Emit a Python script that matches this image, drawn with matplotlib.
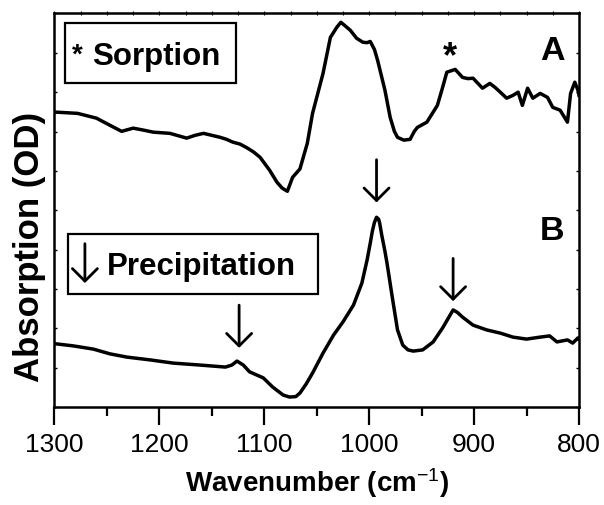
import numpy as np
import matplotlib
matplotlib.use("Agg")
import matplotlib.pyplot as plt
from matplotlib.patches import Rectangle

plt.rcParams['font.family'] = ['Liberation Sans', 'DejaVu Sans']
plt.rcParams['mathtext.fontset'] = 'custom'
plt.rcParams['mathtext.rm'] = 'Liberation Sans'
plt.rcParams['mathtext.it'] = 'Liberation Sans:italic'
plt.rcParams['mathtext.bf'] = 'Liberation Sans:bold'

# ---- Data (wavenumber in cm^-1, absorbance in arbitrary offset units) ----
wn_A = [1300, 1298, 1278, 1260, 1247, 1236, 1225, 1215, 1206, 1190, 1174, 1166, 1158, 1150,
        1142, 1136, 1130, 1123, 1116, 1110, 1104, 1095, 1088, 1083, 1078, 1073, 1066, 1059,
        1054, 1044, 1037, 1031, 1027, 1022, 1018, 1012, 1006, 1002, 999, 995, 992, 985, 980,
        976, 973, 967, 961, 957, 954, 945, 935, 930, 926, 918, 911, 906, 901, 892, 885, 880,
        875, 869, 863, 858, 854, 849, 844, 837, 830, 825, 818, 811, 808, 804, 801, 800]
abs_A = [0.738, 0.738, 0.735, 0.723, 0.705, 0.690, 0.698, 0.693, 0.688, 0.685, 0.673, 0.680,
         0.685, 0.680, 0.675, 0.670, 0.663, 0.658, 0.648, 0.638, 0.625, 0.593, 0.563, 0.548,
         0.540, 0.575, 0.596, 0.660, 0.735, 0.835, 0.925, 0.950, 0.963, 0.952, 0.943, 0.923,
         0.913, 0.912, 0.915, 0.895, 0.868, 0.793, 0.725, 0.690, 0.675, 0.668, 0.670, 0.690,
         0.700, 0.713, 0.755, 0.800, 0.838, 0.845, 0.825, 0.822, 0.823, 0.798, 0.810, 0.800,
         0.788, 0.773, 0.780, 0.788, 0.755, 0.798, 0.773, 0.785, 0.775, 0.750, 0.743, 0.713,
         0.785, 0.813, 0.793, 0.780]

wn_B = [1300, 1298, 1282, 1263, 1247, 1231, 1209, 1187, 1161, 1137, 1131, 1126, 1120, 1114,
        1101, 1092, 1082, 1076, 1070, 1066, 1060, 1054, 1044, 1034, 1025, 1015, 1007, 1002,
        999, 997, 995, 993, 991, 990, 988, 985, 983, 978, 973, 968, 963, 958, 949, 939, 930,
        924, 920, 916, 911, 901, 888, 875, 863, 850, 837, 828, 821, 811, 806, 801, 800]
abs_B = [0.158, 0.158, 0.153, 0.145, 0.133, 0.125, 0.118, 0.110, 0.105, 0.100, 0.105, 0.115,
         0.105, 0.088, 0.073, 0.050, 0.030, 0.025, 0.026, 0.035, 0.058, 0.085, 0.135, 0.180,
         0.213, 0.255, 0.310, 0.368, 0.410, 0.440, 0.462, 0.475, 0.470, 0.460, 0.430, 0.390,
         0.360, 0.275, 0.193, 0.155, 0.143, 0.140, 0.143, 0.163, 0.198, 0.225, 0.243, 0.237,
         0.225, 0.205, 0.193, 0.185, 0.175, 0.170, 0.175, 0.178, 0.163, 0.168, 0.160, 0.173,
         0.170]

x_ticks = [1300, 1200, 1100, 1000, 900, 800]
peak_arrows_wn = [1124, 993, 920]
peak_arrows_tip = [0.148, 0.512, 0.265]
star_wn = 923

# ---- Figure ----
fig = plt.figure(figsize=(6.04, 5.05), dpi=100)
ax = fig.add_axes([0.0902, 0.194, 0.8684, 0.7793])

ax.plot(wn_A, abs_A, color='black', lw=2.5, solid_joinstyle='round')
ax.plot(wn_B, abs_B, color='black', lw=2.5, solid_joinstyle='round')

ymax = 0.985
ax.set_xlim(1300, 800)
ax.set_ylim(0, ymax)

for s in ax.spines.values():
    s.set_linewidth(1.8)

ax.set_xticks(x_ticks)
ax.set_xticklabels([str(t) for t in x_ticks])
ax.set_xticks(np.arange(1250, 800, -100), minor=True)
ax.tick_params(axis='x', which='major', direction='out', length=13, width=1.6,
               labelsize=19, pad=6, top=False)
ax.tick_params(axis='x', which='minor', direction='out', length=6.5, width=1.6, top=False)

ax.set_yticks(np.linspace(0, ymax, 11))
ax.set_yticklabels([])
ax.tick_params(axis='y', which='major', direction='in', length=2.5, width=1,
               left=True, right=True)

# small ticks along top spine
sec = ax.secondary_xaxis('top')
sec.set_xticks(np.arange(1300, 799, -25))
sec.set_xticklabels([])
sec.tick_params(direction='inout', length=3, width=0.8)
sec.spines['top'].set_visible(False)

ax.set_xlabel('Wavenumber (cm$^{-1}$)', fontsize=20, fontweight='bold', labelpad=6)
ax.set_ylabel('Absorption (OD)', fontsize=25, fontweight='bold', va='center')
ax.yaxis.set_label_coords(-0.047, 0.407)

# Boxes
ax.add_patch(Rectangle((0.020, 0.823), 0.326, 0.153, transform=ax.transAxes,
                       fill=False, lw=1.6, ec='black', clip_on=False))
ax.text(0.034, 0.875, '*', transform=ax.transAxes, fontsize=20, fontweight='bold',
        ha='left', va='baseline')
ax.text(0.0715, 0.869, 'Sorption', transform=ax.transAxes, fontsize=22.5,
        fontweight='bold', ha='left', va='baseline')

ax.add_patch(Rectangle((0.0257, 0.287), 0.4767, 0.153, transform=ax.transAxes,
                       fill=False, lw=1.6, ec='black', clip_on=False))
ax.annotate('', xy=(0.058, 0.315), xytext=(0.058, 0.415), xycoords='axes fraction',
            arrowprops=dict(arrowstyle='->, head_length=0.45, head_width=0.45',
                            lw=2, color='black', shrinkA=0, shrinkB=0,
                            mutation_scale=20))
ax.text(0.100, 0.335, 'Precipitation', transform=ax.transAxes, fontsize=22.5,
        fontweight='bold', ha='left', va='baseline')

# Peak arrows
for w, tip in zip(peak_arrows_wn, peak_arrows_tip):
    ax.annotate('', xy=(w, tip), xytext=(w, tip + 0.107),
                arrowprops=dict(arrowstyle='->, head_length=0.45, head_width=0.45',
                                lw=2, color='black', shrinkA=0, shrinkB=0,
                                mutation_scale=20))

ax.text(star_wn, 0.85, '*', fontsize=26, fontweight='bold', ha='center', va='baseline')
ax.text(837, 0.8675, 'A', fontsize=24.5, fontweight='bold', ha='left', va='baseline')
ax.text(837, 0.4175, 'B', fontsize=24.5, fontweight='bold', ha='left', va='baseline')

fig.savefig('out.png', dpi=100)
